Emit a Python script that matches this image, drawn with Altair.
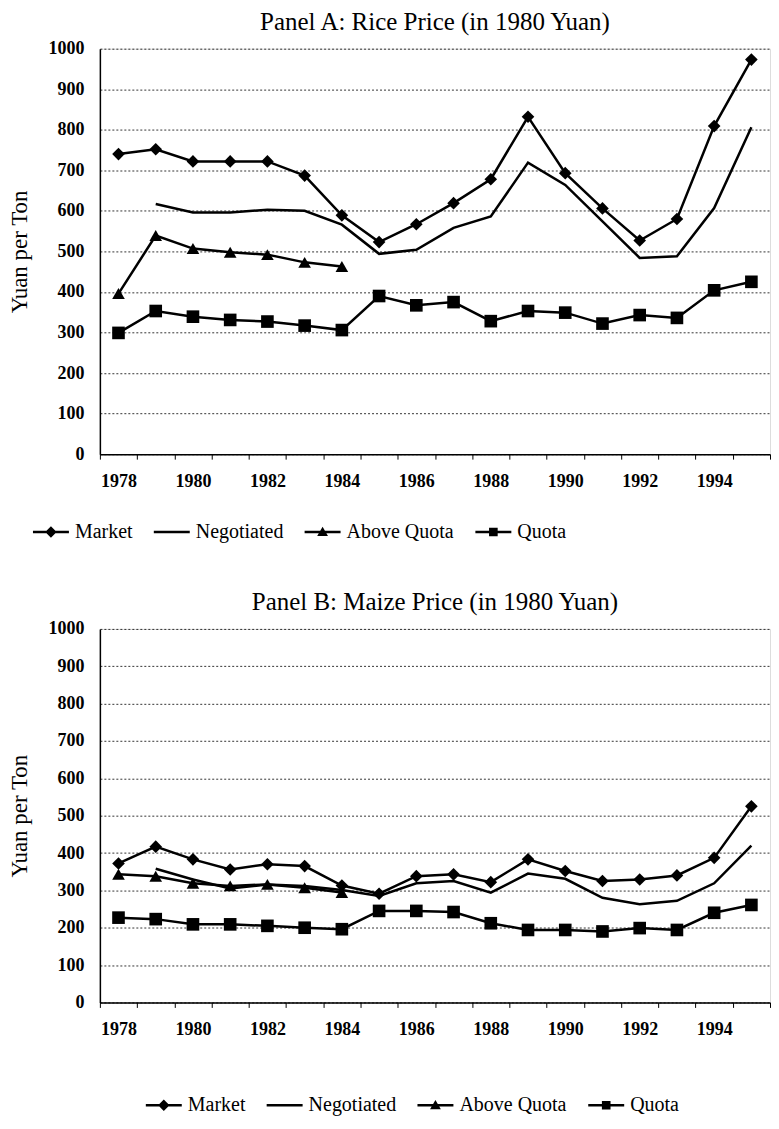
import altair as alt
import pandas as pd

years = [1978, 1979, 1980, 1981, 1982, 1983, 1984, 1985, 1986,
         1987, 1988, 1989, 1990, 1991, 1992, 1993, 1994, 1995]
series_names = ["Market", "Negotiated", "Above Quota", "Quota"]

# Panel A: rice (1980 yuan per ton)
rice_market = [740, 752, 722, 722, 722, 687, 589, 523, 567,
               619, 678, 832, 693, 606, 527, 580, 809, 973]
rice_negotiated = [None, 617, 596, 596, 603, 600, 566, 494, 504,
                   558, 586, 719, 664, 574, 484, 488, 607, 806]
rice_above = [396, 539, 507, 498, 492, 473, 463, None, None,
              None, None, None, None, None, None, None, None, None]
rice_quota = [299, 353, 339, 331, 327, 317, 306, 390, 367,
              375, 328, 353, 349, 322, 343, 336, 404, 425]

# Panel B: maize (1980 yuan per ton)
maize_market = [372, 417, 383, 356, 370, 365, 313, 291, 338,
                343, 322, 383, 352, 325, 329, 340, 387, 525]
maize_negotiated = [None, 358, 329, 305, 316, 312, 301, 285, 319,
                    325, 294, 345, 331, 280, 263, 272, 319, 420]
maize_above = [343, 338, 319, 312, 316, 307, 294, None, None,
               None, None, None, None, None, None, None, None, None]
maize_quota = [227, 223, 209, 209, 205, 200, 196, 245, 245,
               242, 212, 194, 194, 190, 199, 194, 240, 261]

y_ticks = [0, 100, 200, 300, 400, 500, 600, 700, 800, 900, 1000]

SERIF = "Liberation Serif"
PLOT_W = 671

point_shapes = ["diamond", "circle", "triangle-up", "square"]
# legend glyphs: a short filled bar (the line) plus the marker, all filled
BAR = "M-3,-0.21L3,-0.21L3,0.21L-3,0.21Z"
legend_shapes = [
    BAR + "M0,-0.95L0.95,0L0,0.95L-0.95,0Z",
    BAR,
    BAR + "M0,-0.9L0.9,0.65L-0.9,0.65Z",
    BAR + "M-0.72,-0.72L0.72,-0.72L0.72,0.72L-0.72,0.72Z",
]


def long_table(values):
    rows = []
    for name, vals in zip(series_names, values):
        for yr, v in zip(years, vals):
            if v is not None:
                rows.append({"year": yr, "series": name, "value": v})
    return pd.DataFrame(rows)


def panel(title, values, height, legend_x, legend_y):
    df = long_table(values)
    base = alt.Chart(df)
    x = alt.X(
        "year:O",
        bandPosition=0.5,
        scale=alt.Scale(type="band", paddingInner=0, paddingOuter=0),
        axis=alt.Axis(
            title=None,
            labelExpr="datum.value % 2 == 0 ? datum.label : ''",
            labelAngle=0,
            labelFont=SERIF,
            labelFontSize=18,
            labelFontWeight="bold",
            labelColor="black",
            labelPadding=13,
            labelOverlap=False,
            tickBand="extent",
            tickSize=5,
            tickColor="black",
            tickWidth=1,
            domainColor="black",
            domainWidth=1.5,
            grid=False,
        ),
    )
    y = alt.Y(
        "value:Q",
        scale=alt.Scale(domain=[0, 1000], nice=False),
        axis=alt.Axis(
            values=y_ticks,
            format="d",
            title="Yuan per Ton",
            titleFont=SERIF,
            titleFontSize=23,
            titleFontWeight="normal",
            titleColor="black",
            titlePadding=16,
            labelFont=SERIF,
            labelFontSize=18,
            labelFontWeight="bold",
            labelColor="black",
            labelPadding=16,
            tickSize=0,
            domainColor="black",
            domainWidth=1.5,
            grid=True,
            gridColor="black",
            gridDash=[2, 2],
            gridWidth=0.8,
        ),
    )
    lines = base.mark_line(color="black", strokeWidth=2.5).encode(
        x=x, y=y, detail="series:N"
    )
    points = base.transform_filter("datum.series != 'Negotiated'").mark_point(
        filled=True, color="black", opacity=1, size=160
    ).encode(
        x=x,
        y=y,
        shape=alt.Shape(
            "series:N",
            scale=alt.Scale(domain=series_names, range=point_shapes),
            legend=None,
        ),
    )
    leg = base.transform_filter("datum.value < 0").mark_point(
        filled=True, color="black", opacity=1
    ).encode(
        x=x,
        y=y,
        shape=alt.Shape(
            "series:N",
            scale=alt.Scale(domain=series_names, range=legend_shapes),
            legend=alt.Legend(
                title=None,
                orient="none",
                direction="horizontal",
                legendX=legend_x,
                legendY=legend_y,
                labelFont=SERIF,
                labelFontSize=20,
                labelColor="black",
                labelOffset=14,
                columnPadding=18,
                symbolSize=144,
                symbolFillColor="black",
                symbolOpacity=1,
                padding=0,
            ),
        ),
    )
    return (
        alt.layer(lines, points, leg)
        .resolve_scale(shape="independent")
        .properties(
            width=PLOT_W,
            height=height,
            title=alt.TitleParams(
                title,
                font=SERIF,
                fontSize=25,
                fontWeight="normal",
                color="black",
                anchor="middle",
                frame="group",
                offset=5,
            ),
        )
    )


panel_a = panel("Panel A: Rice Price (in 1980 Yuan)",
                [rice_market, rice_negotiated, rice_above, rice_quota],
                406, -59, 474)
panel_b = panel("Panel B: Maize Price (in 1980 Yuan)",
                [maize_market, maize_negotiated, maize_above, maize_quota],
                374, 54, 467)

chart = (
    alt.vconcat(panel_a, panel_b, spacing=46)
    .properties(padding={"left": 0, "top": 0, "right": 0, "bottom": 0})
    .configure_view(stroke="black", strokeWidth=1.5)
    .configure(background="white")
)

chart.save("out.html", embed_options={"renderer": "svg", "actions": False})
